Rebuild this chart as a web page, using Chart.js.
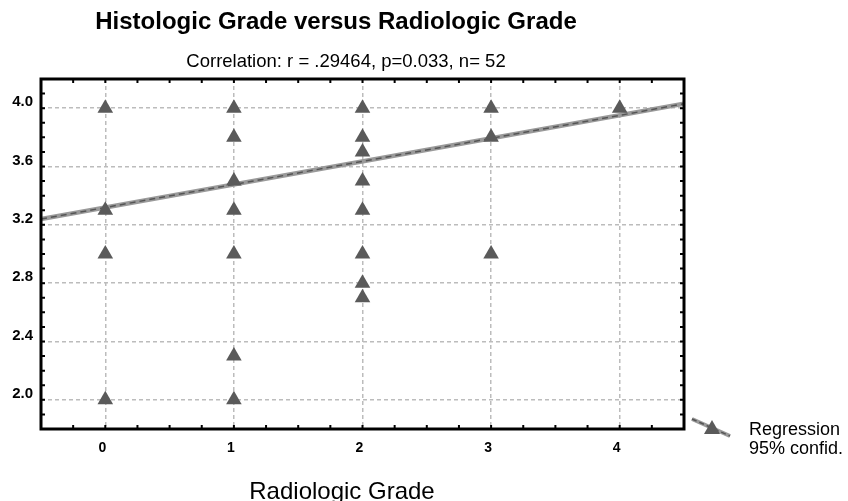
<!DOCTYPE html>
<html>
<head>
<meta charset="utf-8">
<script src="https://cdn.jsdelivr.net/npm/chart.js@4.4.1/dist/chart.umd.min.js"></script>
<style>
  html, body { margin: 0; padding: 0; background: #fff; }
  #wrap { width: 848px; height: 501px; }
</style>
</head>
<body>
<div id="wrap"><canvas id="chart" width="848" height="501"></canvas></div>
<script>
// radiologic grade (x) and histologic grade (y) of the visible points
const radioGrade = [0, 0, 0, 0, 1, 1, 1, 1, 1, 1, 1, 2, 2, 2, 2, 2, 2, 2, 2, 3, 3, 3, 4];
const histoGrade = [4.0, 3.3, 3.0, 2.0, 4.0, 3.8, 3.5, 3.3, 3.0, 2.3, 2.0,
                    4.0, 3.8, 3.7, 3.5, 3.3, 3.0, 2.8, 2.7, 4.0, 3.8, 3.0, 4.0];

// regression line end points
const regX = [-0.5, 4.5];
const regY = [3.24, 4.03];

const xTicks = [0, 1, 2, 3, 4];
const yTicks = [2.0, 2.4, 2.8, 3.2, 3.6, 4.0];

const titleText = 'Histologic Grade versus Radiologic Grade';
const subtitleText = 'Correlation: r = .29464, p=0.033, n= 52';
const xAxisTitle = 'Radiologic Grade';
const legendLines = ['Regression', '95% confid.'];

const points = radioGrade.map((x, i) => ({ x: x, y: histoGrade[i] }));
const regLine = regX.map((x, i) => ({ x: x, y: regY[i] }));

const FONT = '"Liberation Sans", Arial, sans-serif';

// frame, minor ticks, titles and legend
const decorations = {
    id: 'decorations',
    afterDraw(chart) {
        const ctx = chart.ctx;
        const a = chart.chartArea;
        const xs = chart.scales.x;
        const ys = chart.scales.y;
        ctx.save();

        // minor ticks pointing inward on all four sides
        ctx.strokeStyle = '#000';
        ctx.lineWidth = 2;
        ctx.beginPath();
        for (let v = -0.25; v < 4.5; v += 0.25) {
            const px = xs.getPixelForValue(v);
            ctx.moveTo(px, a.bottom); ctx.lineTo(px, a.bottom - 4);
            ctx.moveTo(px, a.top); ctx.lineTo(px, a.top + 4);
        }
        for (let v = 1.9; v < 4.2; v += 0.1) {
            const py = ys.getPixelForValue(v);
            ctx.moveTo(a.left, py); ctx.lineTo(a.left + 4, py);
            ctx.moveTo(a.right, py); ctx.lineTo(a.right - 4, py);
        }
        ctx.stroke();

        // frame
        ctx.lineWidth = 3;
        ctx.strokeRect(a.left, a.top, a.right - a.left, a.bottom - a.top);

        // titles
        ctx.fillStyle = '#000';
        ctx.textAlign = 'center';
        ctx.textBaseline = 'middle';
        ctx.font = 'bold 24px ' + FONT;
        ctx.fillText(titleText, 336, 22);
        ctx.font = '18.5px ' + FONT;
        ctx.fillText(subtitleText, 346, 62);
        ctx.font = '24px ' + FONT;
        ctx.fillText(xAxisTitle, 342, 492);

        // legend
        ctx.strokeStyle = '#9a9a9a';
        ctx.lineWidth = 4;
        ctx.beginPath();
        ctx.moveTo(692, 419); ctx.lineTo(730, 436);
        ctx.stroke();
        ctx.strokeStyle = '#555';
        ctx.lineWidth = 1.5;
        ctx.setLineDash([5, 3]);
        ctx.beginPath();
        ctx.moveTo(692, 419); ctx.lineTo(730, 436);
        ctx.stroke();
        ctx.setLineDash([]);
        ctx.fillStyle = '#5a5a5a';
        ctx.beginPath();
        ctx.moveTo(712, 420); ctx.lineTo(720, 434); ctx.lineTo(704, 434);
        ctx.closePath();
        ctx.fill();
        ctx.fillStyle = '#000';
        ctx.textAlign = 'left';
        ctx.font = '18px ' + FONT;
        ctx.fillText(legendLines[0], 749, 430);
        ctx.fillText(legendLines[1], 749, 449);

        ctx.restore();
    }
};

new Chart(document.getElementById('chart'), {
    type: 'scatter',
    data: {
        datasets: [
            {
                label: 'Histologic grade',
                data: points,
                pointStyle: 'triangle',
                radius: 9,
                backgroundColor: '#5a5a5a',
                borderColor: '#5a5a5a',
                borderWidth: 0,
                order: 0
            },
            {
                type: 'line',
                label: '95% confid.',
                data: regLine,
                borderColor: '#555',
                borderWidth: 1.5,
                borderDash: [6, 4],
                pointRadius: 0,
                order: 1
            },
            {
                type: 'line',
                label: 'Regression',
                data: regLine,
                borderColor: '#9a9a9a',
                borderWidth: 4.5,
                pointRadius: 0,
                order: 2
            }
        ]
    },
    options: {
        responsive: false,
        animation: false,
        layout: { padding: { left: 0, top: 79, right: 164, bottom: 0 } },
        plugins: {
            legend: { display: false },
            tooltip: { enabled: false },
            title: { display: false }
        },
        scales: {
            x: {
                type: 'linear',
                min: -0.5,
                max: 4.5,
                afterBuildTicks: s => { s.ticks = xTicks.map(v => ({ value: v })); },
                afterFit: s => { s.height = 72; },
                grid: { color: '#bcbcbc', lineWidth: 1.5, drawTicks: false },
                border: { display: false, dash: [4, 3] },
                ticks: {
                    padding: 11,
                    labelOffset: -3,
                    color: '#000',
                    font: { family: FONT, size: 14, weight: 'bold' },
                    callback: v => String(v)
                }
            },
            y: {
                type: 'linear',
                min: 1.8,
                max: 4.2,
                afterBuildTicks: s => { s.ticks = yTicks.map(v => ({ value: v })); },
                afterFit: s => { s.width = 41; },
                grid: { color: '#bcbcbc', lineWidth: 1.5, drawTicks: false },
                border: { display: false, dash: [4, 3] },
                ticks: {
                    padding: 8,
                    labelOffset: -6,
                    color: '#000',
                    font: { family: FONT, size: 15, weight: 'bold' },
                    callback: v => v.toFixed(1)
                }
            }
        }
    },
    plugins: [decorations]
});
</script>
</body>
</html>
